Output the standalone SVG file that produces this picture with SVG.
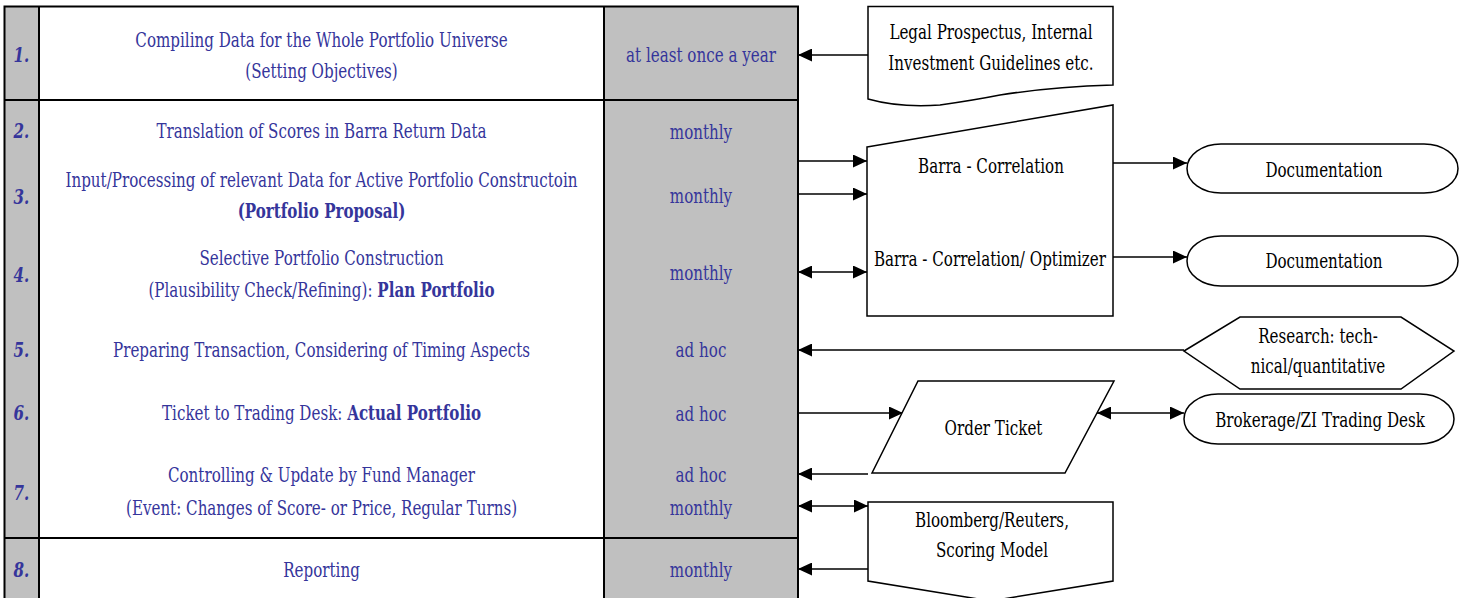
<svg xmlns="http://www.w3.org/2000/svg" width="1461" height="598" viewBox="0 0 1461 598">
  <style>
    .t { font-family: "DejaVu Serif", serif; font-size: 21px; text-anchor: middle; }
    .blue { fill: #35359b; }
    .blk { fill: #000; }
    .b { font-weight: bold; }
    .num { font-weight: bold; font-style: italic; }
    .grid { stroke: #000; stroke-width: 2; fill: none; }
    .shape { fill: #fff; stroke: #000; stroke-width: 1.5; }
    .conn { stroke: #000; stroke-width: 1.5; fill: none; }
    .one { marker-end: url(#head); }
    .two { marker-start: url(#head); marker-end: url(#head); }
  </style>
  <defs>
    <marker id="head" markerUnits="userSpaceOnUse" markerWidth="14" markerHeight="13" refX="14" refY="6.5" orient="auto-start-reverse">
      <path d="M0,0 L14,6.5 L0,13 Z" fill="#000"/>
    </marker>
  </defs>

  <rect width="1461" height="598" fill="#fff"/>

  <!-- process table -->
  <g id="table">
    <rect x="4" y="6" width="35" height="594" fill="#c0c0c0"/>
    <rect x="604" y="6" width="194" height="594" fill="#c0c0c0"/>
    <path class="grid" d="M4.5,600 V6.5 H798 V600 M39,6 V600 M604,6 V600 M4,100 H798 M4,538 H798"/>
  </g>

  <g id="row-1">
    <text class="t num blue" transform="translate(21.5 62) scale(0.72 1)">1.</text>
    <text class="t blue" transform="translate(321.5 47) scale(0.72 1)">Compiling Data for the Whole Portfolio Universe</text>
    <text class="t blue" transform="translate(321.5 78) scale(0.72 1)">(Setting Objectives)</text>
    <text class="t blue" transform="translate(701 62) scale(0.72 1)">at least once a year</text>
  </g>
  <g id="row-2">
    <text class="t num blue" transform="translate(21.5 138) scale(0.72 1)">2.</text>
    <text class="t blue" transform="translate(321.5 138) scale(0.72 1)">Translation of Scores in Barra Return Data</text>
    <text class="t blue" transform="translate(701 139) scale(0.72 1)">monthly</text>
  </g>
  <g id="row-3">
    <text class="t num blue" transform="translate(21.5 204) scale(0.72 1)">3.</text>
    <text class="t blue" transform="translate(321.5 187) scale(0.72 1)">Input/Processing of relevant Data for Active Portfolio Constructoin</text>
    <text class="t b blue" transform="translate(321.5 218) scale(0.72 1)">(Portfolio Proposal)</text>
    <text class="t blue" transform="translate(701 203) scale(0.72 1)">monthly</text>
  </g>
  <g id="row-4">
    <text class="t num blue" transform="translate(21.5 282) scale(0.72 1)">4.</text>
    <text class="t blue" transform="translate(321.5 265) scale(0.72 1)">Selective Portfolio Construction</text>
    <text class="t blue" transform="translate(321.5 297) scale(0.72 1)">(Plausibility Check/Refining): <tspan class="b">Plan Portfolio</tspan></text>
    <text class="t blue" transform="translate(701 280) scale(0.72 1)">monthly</text>
  </g>
  <g id="row-5">
    <text class="t num blue" transform="translate(21.5 357) scale(0.72 1)">5.</text>
    <text class="t blue" transform="translate(321.5 357) scale(0.72 1)">Preparing Transaction, Considering of Timing Aspects</text>
    <text class="t blue" transform="translate(701 357) scale(0.72 1)">ad hoc</text>
  </g>
  <g id="row-6">
    <text class="t num blue" transform="translate(21.5 420) scale(0.72 1)">6.</text>
    <text class="t blue" transform="translate(321.5 420) scale(0.72 1)">Ticket to Trading Desk: <tspan class="b">Actual Portfolio</tspan></text>
    <text class="t blue" transform="translate(701 421) scale(0.72 1)">ad hoc</text>
  </g>
  <g id="row-7">
    <text class="t num blue" transform="translate(21.5 500) scale(0.72 1)">7.</text>
    <text class="t blue" transform="translate(321.5 482) scale(0.72 1)">Controlling &amp; Update by Fund Manager</text>
    <text class="t blue" transform="translate(321.5 515) scale(0.72 1)">(Event: Changes of Score- or Price, Regular Turns)</text>
    <text class="t blue" transform="translate(701 482) scale(0.72 1)">ad hoc</text>
    <text class="t blue" transform="translate(701 515) scale(0.72 1)">monthly</text>
  </g>
  <g id="row-8">
    <text class="t num blue" transform="translate(21.5 577) scale(0.72 1)">8.</text>
    <text class="t blue" transform="translate(321.5 577) scale(0.72 1)">Reporting</text>
    <text class="t blue" transform="translate(701 577) scale(0.72 1)">monthly</text>
  </g>

  <!-- connectors -->
  <g id="connectors">
    <path class="conn one" d="M868,55 H798"/>
    <path class="conn one" d="M798,161 H867"/>
    <path class="conn one" d="M798,194 H867"/>
    <path class="conn two" d="M798,272 H867"/>
    <path class="conn one" d="M1113,163 H1187"/>
    <path class="conn one" d="M1113,257 H1187"/>
    <path class="conn one" d="M1184,350 H798"/>
    <path class="conn one" d="M798,413 H903"/>
    <path class="conn two" d="M1097,413 H1184"/>
    <path class="conn one" d="M868,474 H798"/>
    <path class="conn two" d="M798,506 H868"/>
    <path class="conn one" d="M868,569 H798"/>
  </g>

  <!-- side nodes -->
  <g id="legal-prospectus">
    <path class="shape" d="M868,6.5 H1113 V85 Q1050,87 1000,95 Q975,100 940,105 Q900,108 868,99 Z"/>
    <text class="t blk" transform="translate(991 39) scale(0.72 1)">Legal Prospectus, Internal</text>
    <text class="t blk" transform="translate(991 70) scale(0.72 1)">Investment Guidelines etc.</text>
  </g>
  <g id="barra">
    <path class="shape" d="M867,147 L1113,105 V316 H867 Z"/>
    <text class="t blk" transform="translate(991 173) scale(0.72 1)">Barra - Correlation</text>
    <text class="t blk" transform="translate(990 266) scale(0.72 1)">Barra - Correlation/ Optimizer</text>
  </g>
  <g id="documentation-1">
    <rect class="shape" x="1187" y="144" width="271" height="49" rx="34" ry="24.5"/>
    <text class="t blk" transform="translate(1324 177) scale(0.72 1)">Documentation</text>
  </g>
  <g id="documentation-2">
    <rect class="shape" x="1187" y="236" width="271" height="50" rx="34" ry="25"/>
    <text class="t blk" transform="translate(1324 268) scale(0.72 1)">Documentation</text>
  </g>
  <g id="research">
    <path class="shape" d="M1184,351 L1240,317 H1401 L1454,351 L1401,389 H1240 Z"/>
    <text class="t blk" transform="translate(1318 343) scale(0.72 1)">Research: tech-</text>
    <text class="t blk" transform="translate(1318 373) scale(0.72 1)">nical/quantitative</text>
  </g>
  <g id="order-ticket">
    <path class="shape" d="M918,381 H1114 L1065,473 H872 Z"/>
    <text class="t blk" transform="translate(993.5 435) scale(0.72 1)">Order Ticket</text>
  </g>
  <g id="trading-desk">
    <rect class="shape" x="1184" y="394" width="270" height="50" rx="34" ry="25"/>
    <text class="t blk" transform="translate(1320 427) scale(0.72 1)">Brokerage/ZI Trading Desk</text>
  </g>
  <g id="market-data">
    <path class="shape" d="M868,502 H1113 V581 L990.5,601 L868,581 Z"/>
    <text class="t blk" transform="translate(992 527) scale(0.72 1)">Bloomberg/Reuters,</text>
    <text class="t blk" transform="translate(992 557) scale(0.72 1)">Scoring Model</text>
  </g>
</svg>
